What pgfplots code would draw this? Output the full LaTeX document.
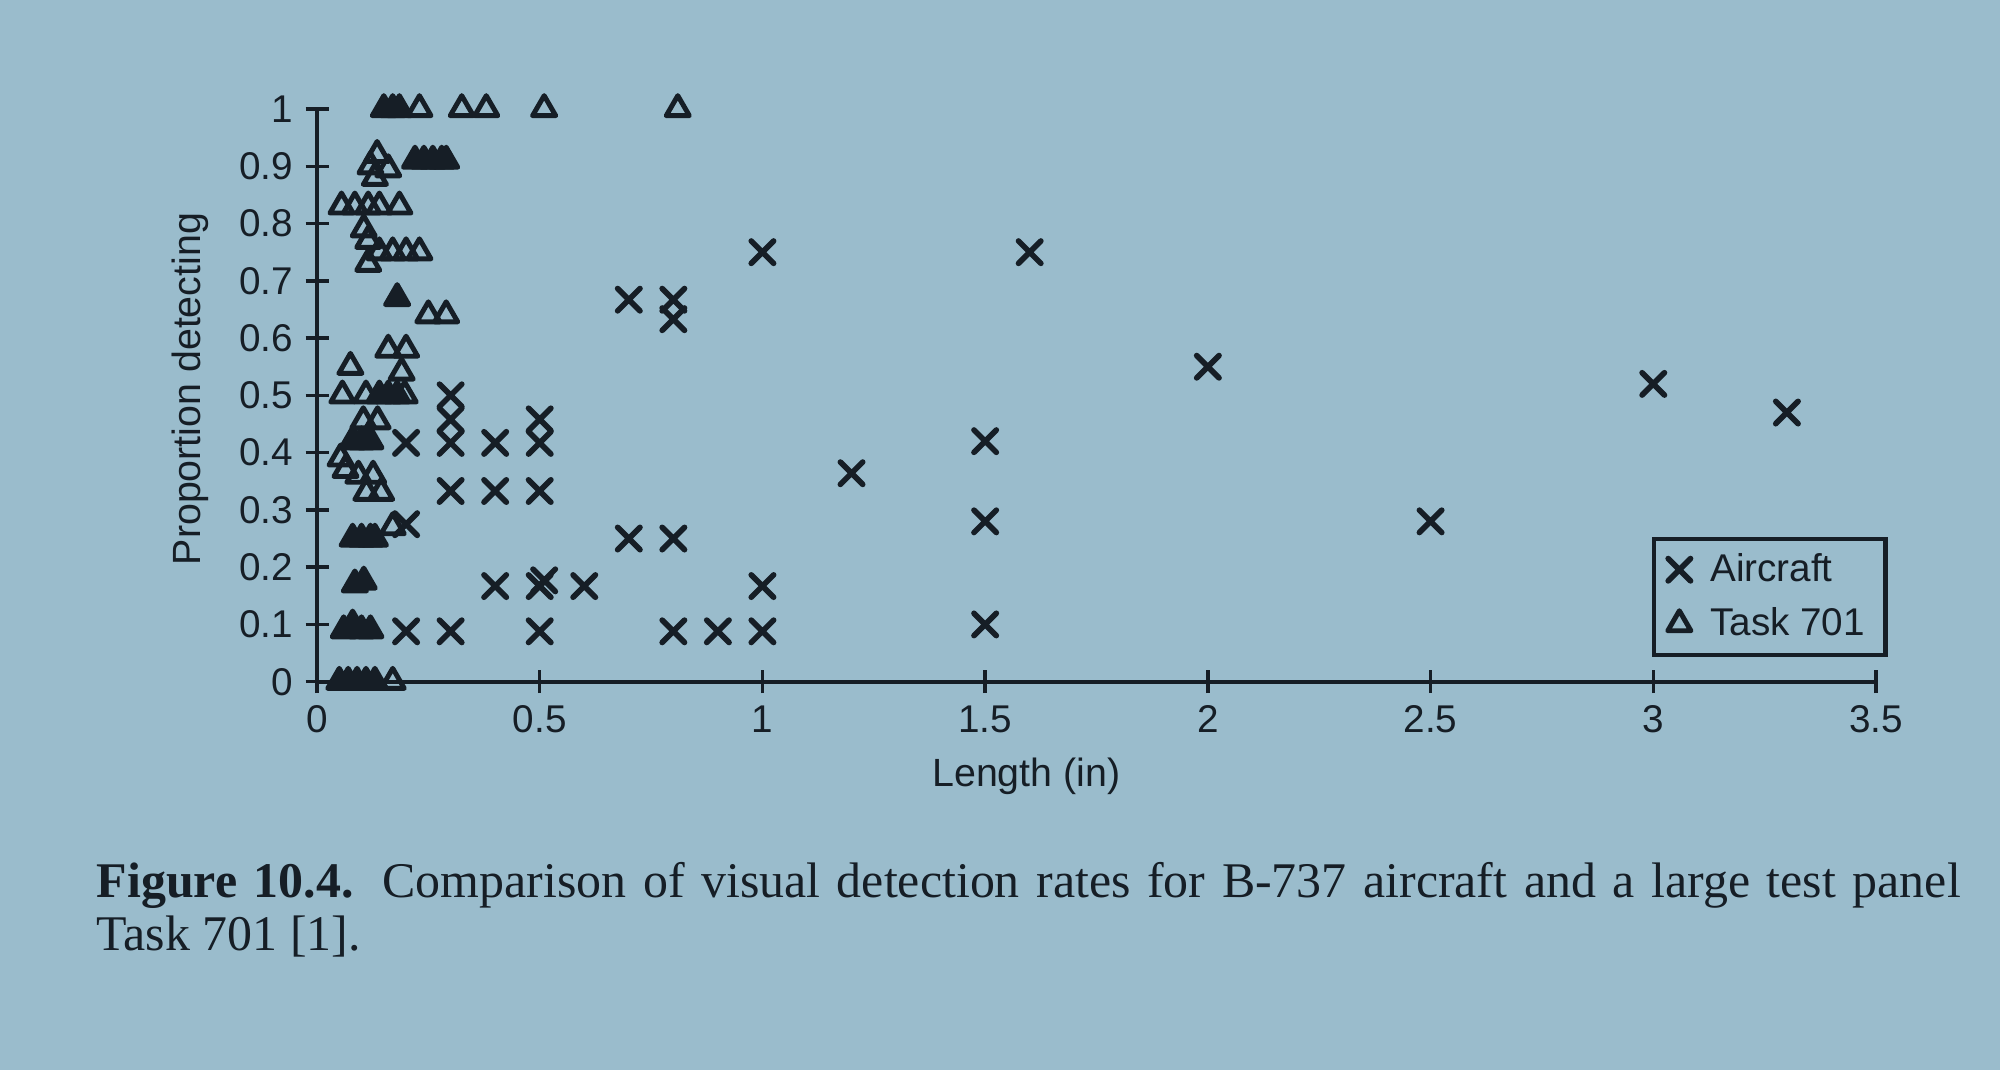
\documentclass[border=0pt]{standalone}
\usepackage{fontspec}
\setmainfont{Liberation Sans}
\newfontfamily\serifcap{Liberation Serif}
\usepackage{pgfplots}
\usepackage{pgfplotstable}
\pgfplotsset{compat=1.18}
\definecolor{bg}{RGB}{154,188,204}
\definecolor{ink}{RGB}{22,30,38}

\pgfplotstableread{
x y
1.0 0.75
1.6 0.75
0.7 0.667
0.8 0.667
0.8 0.633
2.0 0.55
3.0 0.52
3.3 0.47
0.3 0.5
0.3 0.458
0.3 0.417
0.2 0.417
0.4 0.417
0.5 0.458
0.5 0.417
1.5 0.42
1.2 0.364
0.3 0.333
0.4 0.333
0.5 0.333
0.2 0.275
0.7 0.25
0.8 0.25
1.5 0.28
2.5 0.28
0.4 0.167
0.5 0.167
0.51 0.177
0.6 0.167
1.0 0.167
0.2 0.088
0.3 0.088
0.5 0.088
0.8 0.088
0.9 0.088
1.0 0.088
1.5 0.1
}\aircraft

\pgfplotstableread{
x y
0.23 1
0.325 1
0.38 1
0.51 1
0.81 1
0.12 0.9
0.135 0.92
0.13 0.88
0.16 0.895
0.055 0.83
0.085 0.83
0.115 0.83
0.14 0.83
0.185 0.83
0.105 0.79
0.115 0.77
0.14 0.75
0.17 0.75
0.2 0.75
0.23 0.75
0.115 0.73
0.25 0.64
0.29 0.64
0.16 0.58
0.2 0.58
0.19 0.54
0.075 0.55
0.057 0.5
0.11 0.5
0.197 0.5
0.104 0.455
0.136 0.455
0.053 0.39
0.064 0.37
0.093 0.36
0.126 0.36
0.111 0.33
0.144 0.33
0.17 0.27
0.17 0
}\taskopen

\pgfplotstableread{
x y
0.15 1
0.17 1
0.185 1
0.22 0.91
0.24 0.91
0.26 0.91
0.28 0.91
0.29 0.91
0.18 0.67
0.14 0.5
0.16 0.5
0.18 0.5
0.08 0.42
0.1 0.42
0.12 0.42
0.08 0.25
0.1 0.25
0.12 0.25
0.13 0.25
0.085 0.17
0.105 0.175
0.06 0.09
0.08 0.1
0.1 0.09
0.12 0.09
0.05 0
0.07 0
0.09 0
0.11 0
0.13 0
}\taskfill

\begin{document}
\begin{tikzpicture}
\fill[bg] (0,0) rectangle (20cm,10.7cm);
\begin{axis}[
  at={(3.17cm,3.883cm)}, anchor=south west,
  scale only axis, width=15.59cm, height=5.727cm,
  xmin=0, xmax=3.5, ymin=0, ymax=1,
  axis lines=left,
  axis line style={-, line width=1.1pt, ink},
  clip=false,
  xtick={0,0.5,1,1.5,2,2.5,3,3.5},
  xticklabels={0,0.5,1,1.5,2,2.5,3,3.5},
  ytick={0,0.1,0.2,0.3,0.4,0.5,0.6,0.7,0.8,0.9,1},
  yticklabels={0,0.1,0.2,0.3,0.4,0.5,0.6,0.7,0.8,0.9,1},
  tick align=center, major tick length=0.23cm,
  tick style={line width=1pt, ink},
  /pgf/number format/assume math mode=true,
  ticklabel style={font=\fontsize{11}{13}\selectfont, text=ink},
  xlabel={Length (in)}, ylabel={Proportion detecting},
  label style={font=\fontsize{11.2}{13}\selectfont, text=ink},
  xlabel style={at={(axis description cs:0.455,-0.166)}, anchor=center},
  ylabel style={at={(axis description cs:-0.081,0.511)}, anchor=center},
  legend style={at={(axis description cs:1.0077,0.043)}, anchor=south east,
    draw=ink, line width=1.3pt, fill=none,
    font=\fontsize{11}{13}\selectfont, text=ink,
    row sep=2pt, column sep=3.5pt, inner xsep=3.9pt, inner ysep=2pt},
  legend cell align=left,
]
\addplot[ink, only marks, mark=x, mark size=4.5pt,
  mark options={line width=1.6pt, line cap=round}] table {\aircraft};
\addlegendentry{Aircraft}
\addplot[ink, only marks, mark=triangle, mark size=3.8pt,
  mark options={line width=1.4pt, line join=round, fill=none}] table {\taskopen};
\addlegendentry{Task 701}
\addplot[ink, only marks, mark=triangle*, mark size=3.8pt, forget plot,
  mark options={line width=1.4pt, line join=round, draw=ink, fill=ink}] table {\taskfill};
\end{axis}
\node[anchor=base west, inner sep=0, text=ink] at (0.96cm,1.73cm)
  {\serifcap\fontsize{14.2}{17}\selectfont\makebox[18.64cm][s]{\textbf{Figure 10.4.} Comparison of visual detection rates for B-737 aircraft and a large test panel}};
\node[anchor=base west, inner sep=0, text=ink] at (0.96cm,1.20cm)
  {\serifcap\fontsize{14.2}{17}\selectfont Task 701 [1].};
\pgfresetboundingbox
\path[use as bounding box] (0,0) rectangle (20cm,10.7cm);
\end{tikzpicture}
\end{document}
